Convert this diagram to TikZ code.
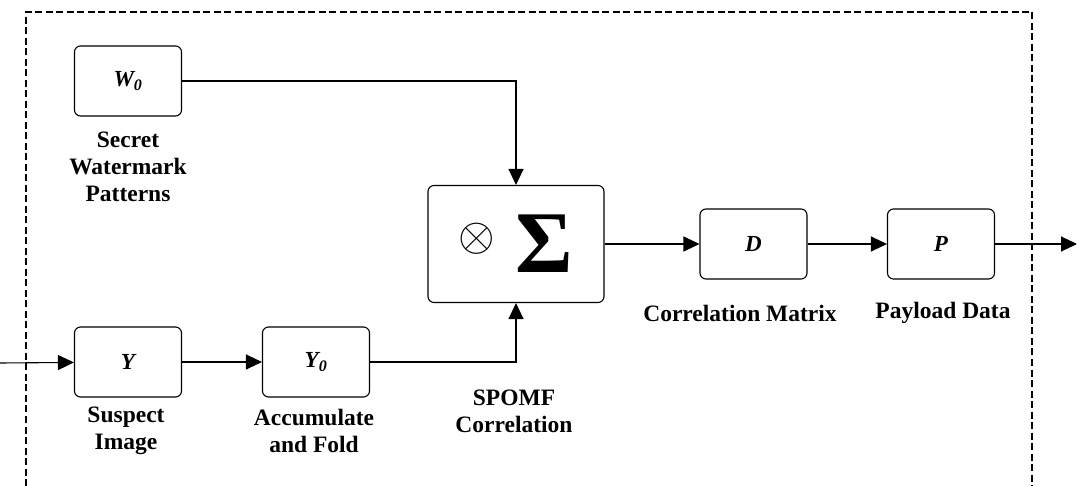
\documentclass[tikz,border=0pt]{standalone}
\usepackage{fontspec}
\setmainfont{Liberation Serif}
\usetikzlibrary{arrows.meta}
\begin{document}
\begin{tikzpicture}[x=1pt,y=-1pt,
  blk/.style={draw, line width=1.1pt, rounded corners=6pt, minimum width=107pt,
    minimum height=70pt, inner sep=0pt, font=\fontsize{23}{23}\selectfont\bfseries\itshape},
  lbl/.style={align=center, inner sep=0pt, font=\fontsize{23.5}{27}\selectfont\bfseries},
  link/.style={line width=1.1pt, -{Triangle[length=16pt,width=15pt]}},
  frame/.style={line width=2.2pt, dash pattern=on 7pt off 3.5pt}]
\useasboundingbox (0,0) rectangle (1077,486);

% dashed system boundary (open at the bottom)
\draw[frame] (26,486) -- (26,12) -- (1032,12) -- (1032,486);

% processing blocks
\node[blk] (w)  at (128,81)    {W\textsubscript{0}};
\node[blk] (y)  at (128,362)   {Y};
\node[blk] (y0) at (316,362)   {Y\textsubscript{0}};
\node[blk, minimum width=176pt, minimum height=117pt, font=\bfseries] (s) at (516,244)
  {\raisebox{22pt}{\scalebox{4.7}{$\otimes$}}\hspace{20pt}{\fontsize{88}{88}\selectfont Σ}};
\node[blk] (d)  at (753.5,244) {D};
\node[blk] (p)  at (941,244)   {P};

% captions
\node[lbl] (lw)  at (128,167) {Secret\\Watermark\\Patterns};
\node[lbl] (ly)  at (126,431) {Suspect\\Image};
\node[lbl] (ly0) at (314,431) {Accumulate\\and Fold};
\node[lbl] (ls)  at (514,411) {SPOMF\\Correlation};
\node[lbl] (ld)  at (740,313) {Correlation Matrix};
\node[lbl] (lp)  at (943,313) {Payload Data};

% signal flow
\coordinate (in)  at (0,363);
\coordinate (out) at (1077,244);
\draw[link] (in) -- (y);
\draw[link] (y) -- (y0);
\draw[link] (y0.east) -| (s.south);
\draw[link] (w.east) -| (s.north);
\draw[link] (s) -- (d);
\draw[link] (d) -- (p);
\draw[link] (p) -- (out);
\end{tikzpicture}
\end{document}
